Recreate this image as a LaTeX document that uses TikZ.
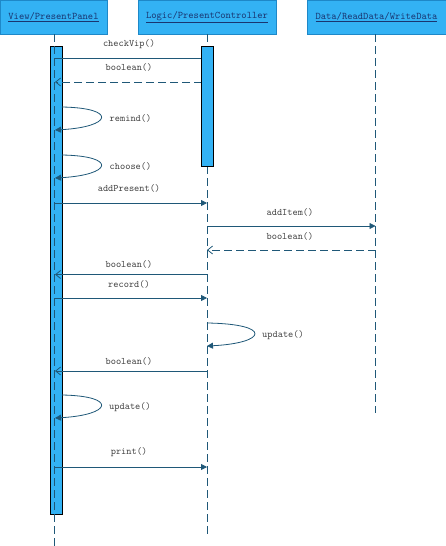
\documentclass[tikz,border=0pt]{standalone}
\usetikzlibrary{arrows.meta}
\definecolor{boxfill}{HTML}{33B2F4}
\definecolor{boxline}{HTML}{1E88C8}
\definecolor{hdrtext}{HTML}{1A3570}
\definecolor{msgline}{HTML}{1F5878}
\definecolor{msgtext}{HTML}{404040}
\tikzset{
  header/.style={draw=boxline, fill=boxfill, line width=0.8pt, inner sep=0pt, font=\ttfamily\fontsize{10.1}{11}\selectfont, text=hdrtext},
  actbar/.style={draw=black, fill=boxfill, line width=0.7pt},
  lifeline/.style={draw=msgline, line width=0.8pt, dash pattern=on 8pt off 4pt},
  call/.style={draw=msgline, line width=0.8pt, -{Triangle[length=6pt,width=6pt]}},
  ret/.style={draw=msgline, line width=0.8pt, dash pattern=on 8pt off 4pt, -{Straight Barb[length=5pt,width=8pt]}},
  retsolid/.style={draw=msgline, line width=0.8pt, -{Straight Barb[length=5pt,width=8pt]}},
  msg/.style={font=\ttfamily\fontsize{9.9}{11}\selectfont, text=msgtext, inner sep=0pt}
}
\begin{document}
\begin{tikzpicture}[x=1pt,y=-1pt]
\useasboundingbox (0,0) rectangle (446,546);
% headers
\node[header, minimum width=107pt, minimum height=34pt] (h1) at (53.5,17) {\underline{View/PresentPanel}};
\node[header, minimum width=138pt, minimum height=34pt] (h2) at (207,17) {\underline{Logic/PresentController}};
\node[header, minimum width=139pt, minimum height=34pt] (h3) at (376.5,17) {\underline{Data/ReadData/WriteData}};
% lifeline ends
\coordinate (t1) at (54.5,34);
\coordinate (e1) at (54.5,546);
\coordinate (t2) at (207,34);
\coordinate (e2) at (207,537);
\coordinate (t3) at (375.5,34);
\coordinate (e3) at (375.5,413);
% activation bar 1
\draw[actbar] (50,46) rectangle (62,514);
% lifelines
\draw[lifeline] (t1) -- (e1);
\draw[lifeline] (t2) -- (e2);
\draw[lifeline] (t3) -- (e3);
% message endpoints
\coordinate (a1) at (55,58);   \coordinate (b1) at (207,58);
\coordinate (a2) at (202,82);  \coordinate (b2) at (55,82);
\coordinate (a3) at (62,107);  \coordinate (b3) at (55,130);
\coordinate (a4) at (62,155);  \coordinate (b4) at (55,178);
\coordinate (a5) at (55,203);  \coordinate (b5) at (207,203);
\coordinate (a6) at (207,226); \coordinate (b6) at (375.5,226);
\coordinate (a7) at (375.5,250); \coordinate (b7) at (207,250);
\coordinate (a8) at (207,274.5); \coordinate (b8) at (55,274.5);
\coordinate (a9) at (55,298);  \coordinate (b9) at (207,298);
\coordinate (a10) at (207,323); \coordinate (b10) at (207,346);
\coordinate (a11) at (207,371); \coordinate (b11) at (55,371);
\coordinate (a12) at (62,395); \coordinate (b12) at (55,418);
\coordinate (a13) at (55,467); \coordinate (b13) at (207,467);
% messages
\draw[call] (a1) -- (b1);
\draw[ret] (a2) -- (b2);
\draw[call] (a3) .. controls (118,108) and (112,127) .. (b3);
\draw[call] (a4) .. controls (118,156) and (112,175) .. (b4);
\draw[call] (a5) -- (b5);
\draw[call] (a6) -- (b6);
\draw[ret] (a7) -- (b7);
\draw[retsolid] (a8) -- (b8);
\draw[call] (a9) -- (b9);
\draw[call] (a10) .. controls (273,324) and (267,343) .. (b10);
\draw[retsolid] (a11) -- (b11);
\draw[call] (a12) .. controls (118,396) and (112,415) .. (b12);
\draw[call] (a13) -- (b13);
% activation bar 2 (on top)
\draw[actbar] (201,46) rectangle (213,166);
% labels
\node[msg] (l1) at (129,44) {checkVip()};
\node[msg] (l2) at (129,67) {boolean()};
\node[msg] (l3) at (130.5,118) {remind()};
\node[msg] (l4) at (130.5,166) {choose()};
\node[msg] (l5) at (129,188) {addPresent()};
\node[msg] (l6) at (290,212) {addItem()};
\node[msg] (l7) at (290,236) {boolean()};
\node[msg] (l8) at (129,264) {boolean()};
\node[msg] (l9) at (129,284) {record()};
\node[msg] (l10) at (283,335) {update()};
\node[msg] (l11) at (129,361) {boolean()};
\node[msg] (l12) at (130,407) {update()};
\node[msg] (l13) at (129,452) {print()};
\end{tikzpicture}
\end{document}
